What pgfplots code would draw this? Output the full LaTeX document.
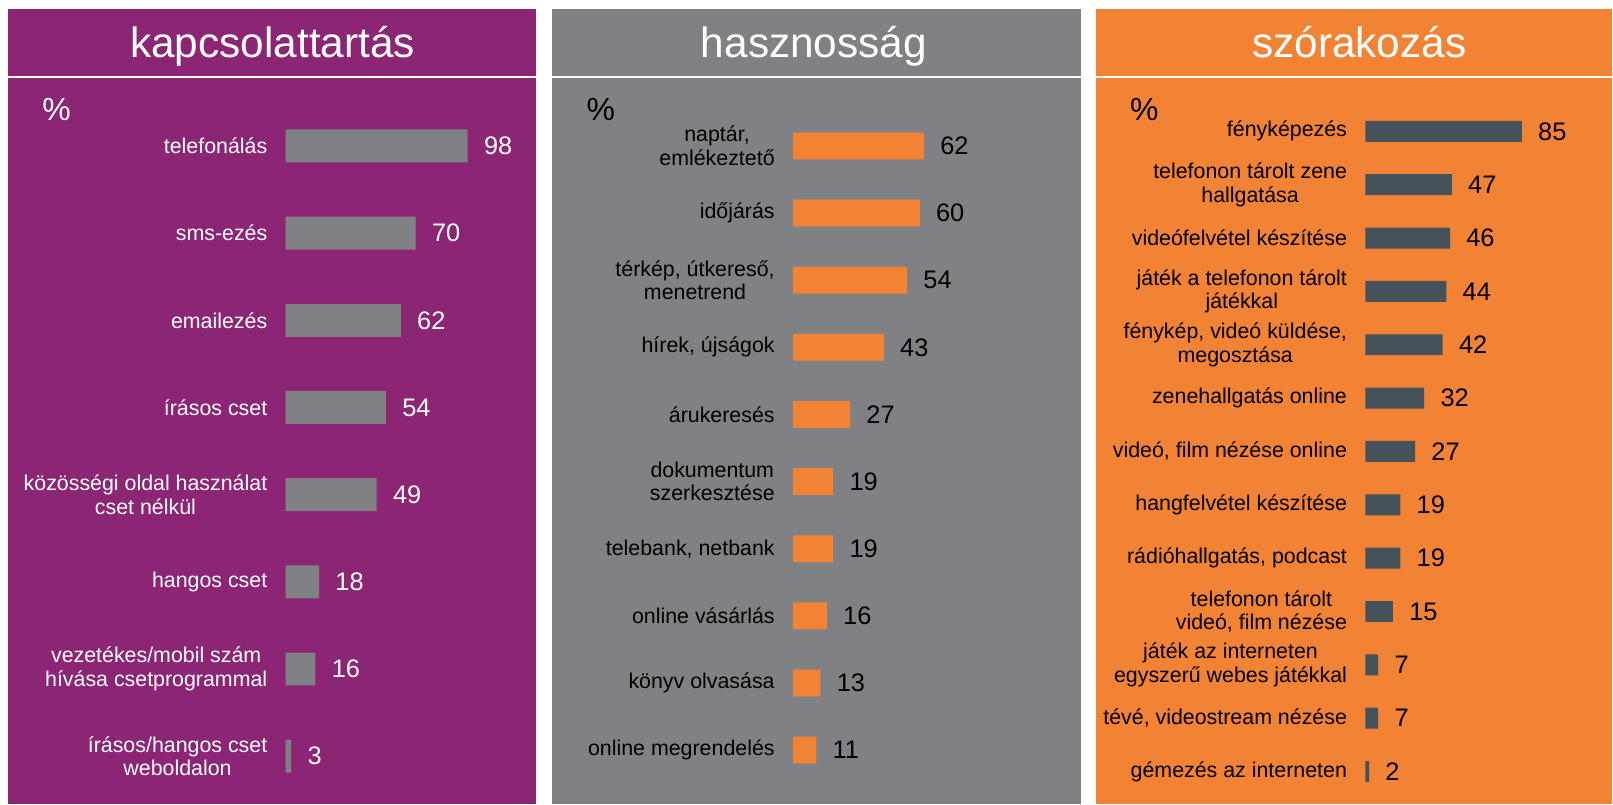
\documentclass[border=0pt]{standalone}
\usepackage{fontspec}
\setmainfont{Liberation Sans}
\usepackage{pgfplots}
\pgfplotsset{compat=1.18}
\definecolor{cpurple}{RGB}{139,37,116}
\definecolor{cgray}{RGB}{128,129,133}
\definecolor{corange}{RGB}{242,130,52}
\definecolor{cdark}{RGB}{69,82,90}
\pgfplotsset{
  panel/.style={
    xbar, scale only axis, clip=false, enlargelimits=false,
    xmin=0, ymin=0,
    axis line style={draw=none}, xtick=\empty, major tick length=0pt,
    /pgf/number format/assume math mode=true,
    point meta=x,
    nodes near coords,
    nodes near coords style={anchor=west, inner sep=0pt, xshift=8pt,
      font=\fontsize{12.7pt}{15pt}\selectfont},
    yticklabel style={align=center, inner sep=0pt, xshift=-9pt,
      font=\fontsize{10.7pt}{11.8pt}\selectfont},
  }
}
\begin{document}
\begin{tikzpicture}
\fill[white] (0pt,0pt) rectangle (806.5pt,402.5pt);
\fill[cpurple] (3.5pt,0pt) rectangle (268pt,398pt);
\fill[cgray] (276pt,0pt) rectangle (540.5pt,398pt);
\fill[corange] (548pt,0pt) rectangle (806.5pt,398pt);
\draw[white, line width=1pt] (0pt,364pt) -- (806.5pt,364pt);
\node[anchor=base, text=white, font=\fontsize{21.2pt}{25pt}\selectfont] at (136pt,373.5pt) {kapcsolattartás};
\node[anchor=base, text=white, font=\fontsize{21.2pt}{25pt}\selectfont] at (407pt,373.5pt) {hasznosság};
\node[anchor=base, text=white, font=\fontsize{21.2pt}{25pt}\selectfont] at (680pt,373.5pt) {szórakozás};
\node[anchor=base west, inner sep=0pt, text=white, font=\fontsize{16pt}{18pt}\selectfont] at (20.5pt,342pt) {\%};
\node[anchor=base west, inner sep=0pt, text=black, font=\fontsize{16pt}{18pt}\selectfont] at (293pt,342pt) {\%};
\node[anchor=base west, inner sep=0pt, text=black, font=\fontsize{16pt}{18pt}\selectfont] at (565pt,342pt) {\%};

% Panel 1
\begin{axis}[panel, at={(142.5pt,329.45pt)}, anchor=north west,
  width=93pt, height=305.5pt, xmax=100, ymax=7,
  bar width=16.5pt,
  ytick={0,...,7},
  yticklabels={{írásos/hangos cset\\weboldalon},{vezetékes/mobil szám\\hívása csetprogrammal},{hangos cset},{közösségi oldal használat\\cset nélkül},{írásos cset},{emailezés},{sms-ezés},{telefonálás}},
  yticklabel style={text=white},
  nodes near coords style={text=white}]
\addplot[fill=cgray, draw=none] coordinates {(3,0) (16,1) (18,2) (49,3) (54,4) (62,5) (70,6) (98,7)};
\end{axis}

% Panel 2
\begin{axis}[panel, at={(396.5pt,329.45pt)}, anchor=north west,
  width=74.025pt, height=302.45pt, xmax=70, ymax=9,
  bar width=13.4pt,
  ytick={0,...,9},
  yticklabels={{online megrendelés},{könyv olvasása},{online vásárlás},{telebank, netbank},{dokumentum\\szerkesztése},{árukeresés},{hírek, újságok},{térkép, útkereső,\\menetrend},{időjárás},{naptár,\\emlékeztető}},
  yticklabel style={text=black},
  nodes near coords style={text=black}]
\addplot[fill=corange, draw=none] coordinates {(11,0) (13,1) (16,2) (19,3) (19,4) (27,5) (43,6) (54,7) (60,8) (62,9)};
\end{axis}

% Panel 3
\begin{axis}[panel, at={(683pt,336.75pt)}, anchor=north west,
  width=92.16pt, height=320.5pt, xmax=100, ymax=12,
  bar width=10.5pt,
  ytick={0,...,12},
  yticklabels={{gémezés az interneten},{tévé, videostream nézése},{játék az interneten\\egyszerű webes játékkal},{telefonon tárolt\\videó, film nézése},{rádióhallgatás, podcast},{hangfelvétel készítése},{videó, film nézése online},{zenehallgatás online},{fénykép, videó küldése,\\megosztása},{játék a telefonon tárolt\\játékkal},{videófelvétel készítése},{telefonon tárolt zene\\hallgatása},{fényképezés}},
  yticklabel style={text=black},
  nodes near coords style={text=black}]
\addplot[fill=cdark, draw=none] coordinates {(2,0) (7,1) (7,2) (15,3) (19,4) (19,5) (27,6) (32,7) (42,8) (44,9) (46,10) (47,11) (85,12)};
\end{axis}
\end{tikzpicture}
\end{document}
